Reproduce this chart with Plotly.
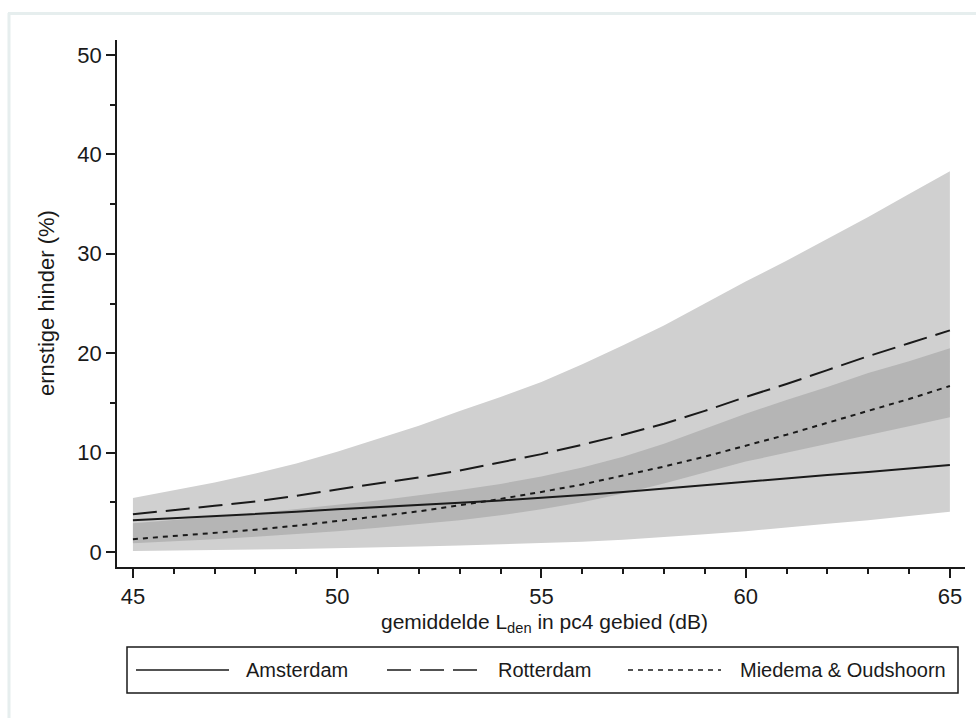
import plotly.graph_objects as go

# ---- data ----
lden = [45, 46, 47, 48, 49, 50, 51, 52, 53, 54, 55, 56, 57, 58, 59, 60, 61, 62, 63, 64, 65]

amsterdam = [3.2, 3.4, 3.6, 3.85, 4.05, 4.3, 4.5, 4.7, 4.95, 5.2, 5.45, 5.75, 6.05, 6.4, 6.75,
             7.07, 7.4, 7.75, 8.05, 8.4, 8.75]
rotterdam = [3.8, 4.2, 4.65, 5.1, 5.65, 6.3, 6.9, 7.5, 8.2, 9.0, 9.85, 10.8, 11.8, 12.9, 14.2,
             15.6, 16.9, 18.3, 19.7, 21.0, 22.3]
miedema = [1.3, 1.6, 1.9, 2.25, 2.65, 3.1, 3.6, 4.1, 4.7, 5.35, 6.05, 6.8, 7.7, 8.6, 9.6,
           10.7, 11.8, 13.0, 14.2, 15.4, 16.7]

wide_upper = [5.45, 6.2, 7.0, 7.9, 8.9, 10.1, 11.4, 12.7, 14.2, 15.6, 17.1, 18.9, 20.8, 22.8, 25.0,
              27.2, 29.3, 31.5, 33.7, 36.0, 38.3]
wide_lower = [0.1, 0.15, 0.2, 0.25, 0.3, 0.37, 0.45, 0.55, 0.65, 0.77, 0.9, 1.05, 1.25, 1.5, 1.8,
              2.1, 2.45, 2.85, 3.2, 3.6, 4.05]
narrow_upper = [2.9, 3.2, 3.55, 3.9, 4.3, 4.75, 5.2, 5.7, 6.25, 6.85, 7.6, 8.5, 9.6, 10.9, 12.4,
                13.9, 15.3, 16.6, 18.0, 19.2, 20.5]
narrow_lower = [0.9, 1.1, 1.3, 1.55, 1.8, 2.1, 2.45, 2.8, 3.2, 3.7, 4.3, 5.0, 5.9, 6.9, 8.0,
                9.1, 10.0, 10.9, 11.75, 12.65, 13.55]

series_names = ["Amsterdam", "Rotterdam", "Miedema & Oudshoorn"]
x_ticks = [45, 50, 55, 60, 65]
y_ticks = [0, 10, 20, 30, 40, 50]
x_title = "gemiddelde L<sub>den</sub> in pc4 gebied (dB)"
y_title = "ernstige hinder (%)"

# ---- layout geometry (pixels) ----
W, H = 976, 718
L, R, T, B = 117, 965, 40, 567
FONT = "Liberation Sans, Arial, sans-serif"
INK = "#1a1a1a"


def px(xp):
    return (xp - L) / (R - L)


def py(yp):
    return (B - yp) / (B - T)


fig = go.Figure()

# confidence bands
fig.add_trace(go.Scatter(
    x=lden + lden[::-1], y=wide_upper + wide_lower[::-1],
    fill="toself", fillcolor="#d0d0d0", line=dict(width=0), mode="lines",
    hoverinfo="skip", showlegend=False))
fig.add_trace(go.Scatter(
    x=lden + lden[::-1], y=narrow_upper + narrow_lower[::-1],
    fill="toself", fillcolor="#b5b5b5", line=dict(width=0), mode="lines",
    hoverinfo="skip", showlegend=False))

dashes = ["solid", "24px,9px", "5px,5px"]
for name, ys, d in zip(series_names, [amsterdam, rotterdam, miedema], dashes):
    fig.add_trace(go.Scatter(x=lden, y=ys, mode="lines", name=name,
                             line=dict(color=INK, width=2, dash=d), showlegend=False))

shapes = []
# pale outer frame (top and left edges)
shapes.append(dict(type="line", xref="paper", yref="paper", x0=px(8), x1=px(W), y0=py(13.5), y1=py(13.5),
                   line=dict(color="#e6eeee", width=3)))
shapes.append(dict(type="line", xref="paper", yref="paper", x0=px(9), x1=px(9), y0=py(13), y1=py(H),
                   line=dict(color="#e6eeee", width=3)))
# legend box
shapes.append(dict(type="rect", xref="paper", yref="paper", x0=px(127), x1=px(958), y0=py(647), y1=py(693),
                   line=dict(color=INK, width=1.5), fillcolor="white"))
leg_lines = [(136, 229), (387, 480), (628, 721)]
leg_text_x = [244, 496, 738]
annotations = []
for (a, b), tx, name, d in zip(leg_lines, leg_text_x, series_names, dashes):
    shapes.append(dict(type="line", xref="paper", yref="paper", x0=px(a), x1=px(b), y0=py(670), y1=py(670),
                       line=dict(color=INK, width=1.5, dash=d)))
    annotations.append(dict(xref="paper", yref="paper", x=px(tx), y=py(670), text=name, showarrow=False,
                            xanchor="left", yanchor="middle", font=dict(family=FONT, size=20, color=INK)))

annotations.append(dict(xref="paper", yref="paper", x=px(544), y=py(623), text=x_title, showarrow=False,
                        xanchor="center", yanchor="middle", font=dict(family=FONT, size=21, color=INK)))
annotations.append(dict(xref="paper", yref="paper", x=px(46), y=py(303), text=y_title, showarrow=False,
                        textangle=-90, xanchor="center", yanchor="middle",
                        font=dict(family=FONT, size=22, color=INK)))

fig.update_layout(
    width=W, height=H,
    margin=dict(l=L, r=W - R, t=T, b=H - B, pad=0),
    paper_bgcolor="white", plot_bgcolor="white",
    font=dict(family=FONT, size=21, color=INK),
    shapes=shapes, annotations=annotations, showlegend=False,
    xaxis=dict(range=[44.61, 65.37], tickvals=x_ticks, ticks="outside", ticklen=9, tickwidth=1.5,
               tickcolor=INK, showline=True, linecolor=INK, linewidth=1.5, showgrid=False, zeroline=False,
               tickfont=dict(family=FONT, size=22, color=INK),
               minor=dict(dtick=1, tick0=45, ticks="outside", ticklen=5, tickwidth=1.5, tickcolor=INK,
                          showgrid=False)),
    yaxis=dict(range=[-1.5, 51.5], tickvals=y_ticks, ticks="outside", ticklen=9, tickwidth=1.5,
               tickcolor=INK, showline=True, linecolor=INK, linewidth=1.5, showgrid=False, zeroline=False,
               tickfont=dict(family=FONT, size=22, color=INK),
               minor=dict(dtick=5, tick0=0, ticks="outside", ticklen=5, tickwidth=1.5, tickcolor=INK,
                          showgrid=False)),
)

fig.write_html("out.html")
